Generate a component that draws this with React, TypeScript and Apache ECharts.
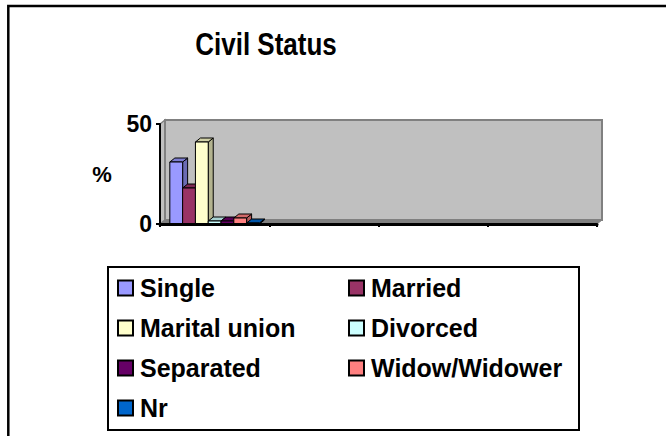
import React, { useEffect, useRef } from "react";
import * as echarts from "echarts";

const CATEGORIES = ["1", "2", "3", "4"];
const SERIES_NAMES = ["Single", "Married", "Marital union", "Divorced", "Separated", "Widow/Widower", "Nr"];
const SERIES_VALUES = [31, 18, 41, 1.5, 1.5, 3, 0.5];
const SERIES_COLORS = ["#9999FF", "#993366", "#FFFFCC", "#CCFFFF", "#660066", "#FF8080", "#0066CC"];
const Y_TICKS = [0, 50];
const TITLE = "Civil Status";

const FONT = 'Arial, "Liberation Sans", sans-serif';
const DX = 5;
const DY = 4;
const GAP = 0.18;

function darken(hex: string, k: number): string {
  const h = hex.replace("#", "");
  const r = parseInt(h.slice(0, 2), 16);
  const g = parseInt(h.slice(2, 4), 16);
  const b = parseInt(h.slice(4, 6), 16);
  const f = (v: number) => Math.max(0, Math.round(v * (1 - k)));
  return `rgb(${f(r)},${f(g)},${f(b)})`;
}

export default function App() {
  const ref = useRef<HTMLDivElement>(null);
  useEffect(() => {
    document.body.style.margin = "0";
    if (!ref.current) return;
    const chart = echarts.init(ref.current, null, { renderer: "svg" });
    const n = SERIES_NAMES.length;

    const wallSeries: any = {
      type: "custom",
      name: "__wall",
      z: 1,
      silent: true,
      data: [[0, 0]],
      renderItem: (params: any) => {
        const cs = params.coordSys;
        const x = cs.x, y = cs.y, w = cs.width, h = cs.height;
        return {
          type: "group",
          children: [
            {
              type: "polygon",
              shape: { points: [[x, y], [x + DX, y - DY], [x + DX, y + h - DY], [x, y + h]] },
              style: { fill: "#C0C0C0", stroke: "#808080", lineWidth: 1.5 },
            },
            {
              type: "rect",
              shape: { x: x + DX, y: y - DY, width: w, height: h },
              style: { fill: "#C0C0C0", stroke: "#808080", lineWidth: 2 },
            },
            {
              type: "polygon",
              shape: { points: [[x, y + h], [x + DX, y + h - DY], [x + w + DX, y + h - DY], [x + w, y + h]] },
              style: { fill: "#808080", stroke: "#808080", lineWidth: 1 },
            },
          ],
        };
      },
    };

    const barSeries = SERIES_NAMES.map((name, si) => {
      const color = SERIES_COLORS[si];
      const topC = darken(color, 0.18);
      const sideC = darken(color, 0.3);
      return {
        type: "custom",
        name,
        z: 2,
        itemStyle: { color },
        data: [[0, SERIES_VALUES[si]]],
        renderItem: (params: any, api: any) => {
          const cat = api.value(0);
          const val = api.value(1);
          const base = api.coord([cat, 0]);
          const top = api.coord([cat, val]);
          const band = api.size([1, 0])[0];
          const groupW = band * (1 - GAP);
          const bw = groupW / n;
          const x0 = base[0] - groupW / 2 + si * bw;
          const y0 = top[1];
          const y1 = base[1];
          return {
            type: "group",
            children: [
              {
                type: "polygon",
                shape: { points: [[x0 + bw, y1], [x0 + bw, y0], [x0 + bw + DX, y0 - DY], [x0 + bw + DX, y1 - DY]] },
                style: { fill: sideC, stroke: "#000", lineWidth: 1 },
              },
              {
                type: "polygon",
                shape: { points: [[x0, y0], [x0 + DX, y0 - DY], [x0 + bw + DX, y0 - DY], [x0 + bw, y0]] },
                style: { fill: topC, stroke: "#000", lineWidth: 1 },
              },
              {
                type: "rect",
                shape: { x: x0, y: y0, width: bw, height: y1 - y0 },
                style: { fill: color, stroke: "#000", lineWidth: 1 },
              },
            ],
          };
        },
      };
    });

    chart.setOption({
      animation: false,
      backgroundColor: "#ffffff",
      textStyle: { fontFamily: FONT },
      graphic: [
        {
          type: "rect",
          shape: { x: 8.3, y: 6, width: 700, height: 500 },
          style: { fill: "none", stroke: "#000", lineWidth: 2.5 },
          silent: true,
          z: 0,
        },
        {
          type: "text",
          x: 266,
          y: 43.5,
          scaleY: 1.24,
          silent: true,
          z: 5,
          style: {
            text: TITLE,
            fontFamily: FONT,
            fontSize: 26,
            fontWeight: "bold",
            fill: "#000",
            align: "center",
            verticalAlign: "middle",
          },
        },
      ],
      grid: { left: 160, right: 69, top: 124, bottom: 212, containLabel: false },
      xAxis: {
        type: "category",
        data: CATEGORIES,
        z: 10,
        axisLine: { show: true, lineStyle: { color: "#000", width: 3 } },
        axisTick: { show: true, length: 3, lineStyle: { color: "#000", width: 2 } },
        axisLabel: { show: false },
        splitLine: { show: false },
      },
      yAxis: {
        type: "value",
        min: Y_TICKS[0],
        max: Y_TICKS[1],
        interval: Y_TICKS[1] - Y_TICKS[0],
        z: 10,
        name: "%",
        nameLocation: "middle",
        nameRotate: 0,
        nameGap: 58,
        nameTextStyle: { fontFamily: FONT, fontSize: 22, fontWeight: "bold", color: "#000", align: "center", verticalAlign: "middle" },
        axisLine: { show: true, lineStyle: { color: "#000", width: 2 } },
        axisTick: { show: true, length: 4, lineStyle: { color: "#000", width: 2 } },
        axisLabel: { margin: 8, fontFamily: FONT, fontSize: 23, fontWeight: "bold", color: "#000" },
        splitLine: { show: false },
      },
      legend: {
        data: SERIES_NAMES,
        left: 108,
        top: 267,
        width: 464,
        orient: "horizontal",
        selectedMode: false,
        icon: "rect",
        itemWidth: 15,
        itemHeight: 15,
        itemGap: 0,
        padding: [1, 0, 2, 9],
        borderColor: "#000",
        borderWidth: 2,
        itemStyle: { borderColor: "#000", borderWidth: 2 },
        textStyle: {
          fontFamily: FONT,
          fontSize: 25,
          fontWeight: "bold",
          color: "#000",
          width: 208,
          lineHeight: 40,
          padding: [0, 0, 0, 2],
        },
      },
      series: [wallSeries, ...barSeries],
    });
    return () => chart.dispose();
  }, []);
  return <div ref={ref} style={{ width: 666, height: 436 }} />;
}
